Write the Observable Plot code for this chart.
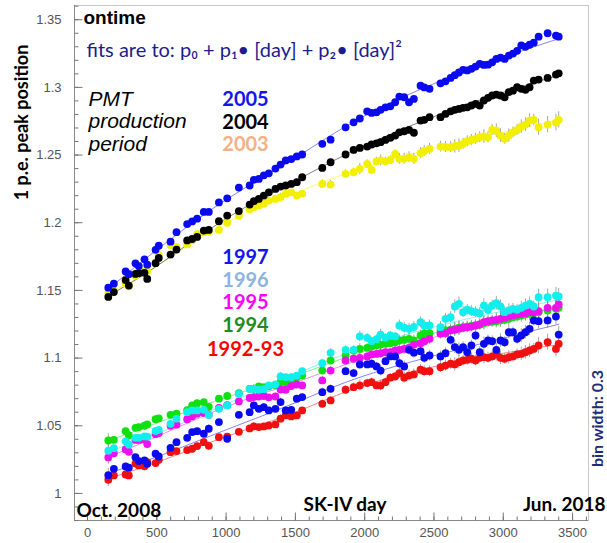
<!DOCTYPE html>
<html><head><meta charset="utf-8">
<script src="https://cdn.jsdelivr.net/npm/d3@7"></script>
<script src="https://cdn.jsdelivr.net/npm/@observablehq/plot@0.6"></script>
<style>body{margin:0;background:#fff}#chart{width:607px;height:543px;overflow:hidden}</style>
</head><body><div id="chart"></div>
<script>
// SK-IV day of each bin (shared by all series)
const days = [150,190,275,298,346,370,411,431,491,514,599,642,719,755,791,839,875,948,1008,1092,
 1170,1200,1236,1272,1308,1356,1393,1430,1470,1510,1549,1694,1754,
 1862,1920,1965,2018,2050,2085,2115,2150,2185,2220,2250,2285,2320,2355,2403,2430,2468,
 2547,2583,2620,2650,2680,2710,2740,2770,2800,2830,2860,2890,2920,2950,2980,3010,3040,3070,3100,3130,3160,3190,3220,3255,3320,3380,3400];

const s2005 = [1.152,1.155,1.164,1.162,1.170,1.168,1.173,1.169,1.180,1.183,1.186,1.193,1.199,1.201,1.203,1.208,1.208,1.215,1.218,1.226,
 1.2275,1.2317,1.2324,1.2350,1.2365,1.2400,1.2430,1.2460,1.2470,1.2490,1.2504,1.2583,1.2614,
 1.2705,1.2742,1.2770,1.2823,1.2811,1.2816,1.2834,1.2853,1.2860,1.2890,1.2932,1.2927,1.2890,1.2915,1.3013,1.3000,1.2989,
 1.3030,1.3045,1.3070,1.3090,1.3110,1.3130,1.3125,1.3137,1.3154,1.3174,1.3166,1.3168,1.3185,1.3210,1.3220,1.3210,1.3235,1.3250,1.3270,1.3310,1.3300,1.3315,1.3330,1.3375,1.3400,1.3383,1.3375];
const s2004 = [1.1452,1.1488,1.1576,1.1536,1.1622,1.1627,1.1630,1.1585,1.1701,1.1740,1.1765,1.1802,1.1869,1.1880,1.1895,1.1942,1.1947,1.2011,1.2053,1.2086,
 1.2134,1.2159,1.2176,1.2201,1.2225,1.2250,1.2267,1.2275,1.2287,1.2300,1.2336,1.2405,1.2447,
 1.2504,1.2538,1.2553,1.2563,1.2578,1.2587,1.2595,1.2612,1.2627,1.2644,1.2668,1.2676,1.2686,1.2665,1.2755,1.2760,1.2780,
 1.2780,1.2804,1.2823,1.2834,1.2841,1.2849,1.2853,1.2866,1.2878,1.2866,1.2903,1.2923,1.2940,1.2947,1.2940,1.2927,1.2965,1.2976,1.3001,1.2989,1.2982,1.3001,1.3050,1.3058,1.3070,1.3095,1.3104];
const s2003 = [1.1480,1.1500,1.1553,1.1530,1.1610,1.1640,1.1640,1.1645,1.1705,1.1760,1.1835,1.1820,1.1840,1.1870,1.1915,1.1930,1.1935,1.1947,1.2000,1.2050,
 1.2100,1.2115,1.2127,1.2140,1.2164,1.2176,1.2189,1.2213,1.2225,1.2201,1.2215,1.2287,1.2282,
 1.2361,1.2373,1.2398,1.2434,1.2390,1.2454,1.2460,1.2454,1.2464,1.2508,1.2472,1.2472,1.2484,1.2472,1.2515,1.2530,1.2546,
 1.2563,1.2560,1.2558,1.2565,1.2570,1.2583,1.2602,1.2612,1.2620,1.2632,1.2637,1.2632,1.2686,1.2680,1.2644,1.2620,1.2644,1.2668,1.2686,1.2710,1.2725,1.2755,1.2760,1.2706,1.2725,1.2740,1.2760];
const s1997 = [1.0135,1.0182,1.0199,1.0190,1.0268,1.0239,1.0244,1.0219,1.0293,1.0273,1.0337,1.0379,1.0411,1.0453,1.0460,1.0441,1.0478,1.0527,1.0404,1.0581,
 1.0600,1.0650,1.0625,1.0637,1.0613,1.0625,1.0675,1.0613,1.0618,1.0700,1.0712,1.0748,1.0773,
 1.0903,1.0889,1.0953,1.0953,1.0958,1.0938,1.0908,1.0977,1.1012,1.1012,1.0962,1.0938,1.1061,1.1040,1.1051,1.1002,1.1019,
 1.1012,1.1036,1.1135,1.1081,1.1061,1.1081,1.1043,1.1093,1.1167,1.1043,1.1105,1.1130,1.1125,1.1061,1.1130,1.1117,1.1191,1.1191,1.1142,1.1167,1.1191,1.1216,1.1278,1.1273,1.1278,1.1307,1.1174];
const s1996 = [1.0316,1.0334,1.0385,1.0360,1.0411,1.0411,1.0421,1.0420,1.0462,1.0470,1.0514,1.0552,1.0600,1.0613,1.0613,1.0618,1.0580,1.0625,1.0650,1.0735,
 1.0773,1.0773,1.0766,1.0770,1.0798,1.0805,1.0864,1.0860,1.0859,1.0871,1.0903,1.0962,1.1039,
 1.1061,1.1061,1.1160,1.1150,1.1125,1.1140,1.1174,1.1150,1.1167,1.1160,1.1241,1.1224,1.1216,1.1230,1.1265,1.1241,1.1241,
 1.1228,1.1290,1.1302,1.1381,1.1401,1.1339,1.1357,1.1347,1.1339,1.1332,1.1388,1.1357,1.1388,1.1405,1.1381,1.1339,1.1352,1.1364,1.1357,1.1371,1.1388,1.1401,1.1381,1.1450,1.1450,1.1462,1.1455];
const s1995 = [1.0266,1.0296,1.0325,1.0308,1.0395,1.0395,1.0398,1.0365,1.0438,1.0446,1.0500,1.0508,1.0548,1.0570,1.0589,1.0595,1.0582,1.0632,1.0652,1.0680,
 1.0705,1.0712,1.0716,1.0720,1.0710,1.0716,1.0768,1.0766,1.0793,1.0805,1.0798,1.0835,1.0908,
 1.0982,1.0995,1.1002,1.1012,1.1027,1.1031,1.1036,1.1043,1.1043,1.1056,1.1061,1.1068,1.1076,1.1100,1.1110,1.1125,1.1142,
 1.1180,1.1184,1.1204,1.1209,1.1216,1.1224,1.1228,1.1233,1.1241,1.1248,1.1265,1.1273,1.1278,1.1283,1.1290,1.1298,1.1307,1.1315,1.1322,1.1327,1.1332,1.1339,1.1339,1.1347,1.1371,1.1371,1.1396];
const s1994 = [1.0391,1.0396,1.0460,1.0430,1.0485,1.0490,1.0500,1.0510,1.0548,1.0555,1.0581,1.0590,1.0615,1.0650,1.0667,1.0675,1.0640,1.0700,1.0720,1.0741,
 1.0773,1.0773,1.0790,1.0785,1.0790,1.0800,1.0822,1.0822,1.0840,1.0859,1.0871,1.0908,1.0982,
 1.1019,1.1056,1.1068,1.1076,1.1086,1.1093,1.1100,1.1106,1.1110,1.1117,1.1130,1.1135,1.1142,1.1130,1.1167,1.1180,1.1184,
 1.1204,1.1206,1.1209,1.1216,1.1224,1.1228,1.1233,1.1238,1.1241,1.1248,1.1258,1.1265,1.1268,1.1273,1.1278,1.1283,1.1290,1.1302,1.1307,1.1315,1.1322,1.1327,1.1332,1.1339,1.1352,1.1364,1.1371];
const s1992 = [1.0101,1.0133,1.0140,1.0133,1.0222,1.0207,1.0200,1.0231,1.0224,1.0249,1.0305,1.0313,1.0320,1.0330,1.0350,1.0379,1.0352,1.0416,1.0420,1.0455,
 1.0480,1.0495,1.0490,1.0495,1.0502,1.0510,1.0552,1.0576,1.0569,1.0576,1.0613,1.0662,1.0687,
 1.0766,1.0785,1.0798,1.0815,1.0822,1.0798,1.0798,1.0822,1.0855,1.0864,1.0889,1.0855,1.0871,1.0879,1.0914,1.0903,1.0903,
 1.0933,1.0945,1.0958,1.0953,1.0970,1.0982,1.0987,1.0995,1.0982,1.1002,1.1007,1.1002,1.1012,1.1027,1.1002,1.0995,1.1007,1.1012,1.1027,1.1031,1.1043,1.1056,1.1068,1.1093,1.1117,1.1068,1.1105];

// error bar half-lengths per bin
const errs = [0.005,0.002,0.002,0.002,0.002,0.002,0.002,0.002,0.002,0.002,0.002,0.002,0.002,0.002,0.002,0.002,0.003,0.002,0.002,0.002,
 0.002,0.003,0.002,0.002,0.002,0.002,0.003,0.002,0.002,0.002,0.002,0.003,0.003,
 0.003,0.003,0.004,0.003,0.003,0.003,0.004,0.003,0.003,0.003,0.004,0.004,0.004,0.004,0.004,0.004,0.004,
 0.004,0.004,0.004,0.005,0.005,0.004,0.004,0.004,0.004,0.004,0.005,0.004,0.004,0.005,0.005,0.004,0.005,0.004,0.004,0.005,0.005,0.005,0.004,0.006,0.006,0.006,0.006];

// fit curves
const fitDays = [150, 500, 1000, 1500, 2000, 2700, 3400];
const fit2005 = [1.151, 1.180, 1.217, 1.248, 1.279, 1.311, 1.336];
const fit2004 = [1.146, 1.168, 1.203, 1.231, 1.257, 1.286, 1.309];
const fit2003 = [1.148, 1.168, 1.200, 1.222, 1.241, 1.260, 1.276];
const fit1997 = [1.015, 1.027, 1.047, 1.067, 1.087, 1.107, 1.125];
const fit1996 = [1.031, 1.044, 1.066, 1.088, 1.108, 1.128, 1.143];
const fit1995 = [1.027, 1.042, 1.064, 1.082, 1.100, 1.121, 1.138];
const fit1994 = [1.039, 1.052, 1.071, 1.087, 1.105, 1.123, 1.137];
const fit1992 = [1.011, 1.023, 1.042, 1.060, 1.080, 1.098, 1.110];

const xTicks = [0, 500, 1000, 1500, 2000, 2500, 3000, 3500];
const yTicks = [1, 1.05, 1.1, 1.15, 1.2, 1.25, 1.3, 1.35];

const series = [
  {values: s2003, fit: fit2003, color: "#f2f000", err: true},
  {values: s2004, fit: fit2004, color: "#000000", err: false},
  {values: s2005, fit: fit2005, color: "#0a0af0", err: false},
  {values: s1994, fit: fit1994, color: "#10e010", err: true},
  {values: s1995, fit: fit1995, color: "#ee10ee", err: true},
  {values: s1996, fit: fit1996, color: "#10eeee", err: true},
  {values: s1992, fit: fit1992, color: "#f01010", err: true},
  {values: s1997, fit: fit1997, color: "#0a0af0", err: true}
];

const M = {top: 5, right: 19, bottom: 23, left: 74};
const xDomain = [-94, 3615];
const yDomain = [0.98, 1.3605];
const FONT = "Lato, 'Open Sans', sans-serif";
const TICKFONT = "'Liberation Sans', Arial, sans-serif";

function label(txt, x, y, o = {}) {
  return Plot.text([txt], {text: d => d, frameAnchor: "top-left", dx: x - M.left, dy: y - M.top,
    lineAnchor: "bottom", textAnchor: "start", fontFamily: FONT, fontSize: 20, fill: "#000", ...o});
}
// inward tick symbols (ROOT style)
const tickRight = len => ({draw(ctx) { ctx.moveTo(0, 0); ctx.lineTo(len, 0); }});
const tickUp = len => ({draw(ctx) { ctx.moveTo(0, 0); ctx.lineTo(0, -len); }});

const marks = [Plot.frame({stroke: "#c8c8c8"})];
for (const s of series) {
  marks.push(Plot.line(fitDays.map((d, i) => ({day: d, v: s.fit[i]})),
    {x: "day", y: "v", stroke: s.color, strokeOpacity: 0.5, strokeWidth: 1, curve: "natural"}));
}
for (const s of series) if (s.err) {
  marks.push(Plot.ruleX(days.map((d, i) => ({day: d, v: s.values[i], e: errs[i]})),
    {x: "day", y1: d => d.v - d.e, y2: d => d.v + d.e, stroke: "#8a8a8a", strokeOpacity: 0.75, strokeWidth: 1}));
}
for (const s of series) {
  marks.push(Plot.dot(days.map((d, i) => ({day: d, v: s.values[i]})),
    {x: "day", y: "v", r: 3.9, fill: s.color, stroke: "none"}));
}
const yMinor = d3.range(98, 137).map(d => d / 100);
const xMinor = d3.range(0, 37).map(d => d * 100);
// axes
marks.push(
  Plot.ruleX([xDomain[0]], {stroke: "#8a8a8a"}),
  Plot.ruleY([yDomain[0]], {stroke: "#8a8a8a"}),
  Plot.dot(yTicks, {x: () => xDomain[0], y: d => d, symbol: tickRight(8), fill: "none", stroke: "#777", strokeWidth: 1}),
  Plot.dot(yMinor, {x: () => xDomain[0], y: d => d, symbol: tickRight(4), fill: "none", stroke: "#777", strokeWidth: 1}),
  Plot.dot(xTicks, {x: d => d, y: () => yDomain[0], symbol: tickUp(8), fill: "none", stroke: "#777", strokeWidth: 1}),
  Plot.dot(xMinor, {x: d => d, y: () => yDomain[0], symbol: tickUp(4), fill: "none", stroke: "#777", strokeWidth: 1}),
  Plot.axisY({ticks: yTicks, tickSize: 0, tickPadding: 13, tickFormat: d => String(d), fontSize: 13, fill: "#555", fontFamily: TICKFONT, label: null}),
  Plot.axisX({ticks: xTicks, tickSize: 0, tickPadding: 7, tickFormat: d => String(d), fontSize: 13, fill: "#555", fontFamily: TICKFONT, label: null})
);
// annotations
const ITALIC = {fontSize: 21, fontStyle: "italic", fontFamily: TICKFONT};
marks.push(
  label("1 p.e. peak position", 27, 122, {rotate: -90, textAnchor: "middle", fontSize: 18, fontWeight: "bold"}),
  label("ontime", 83, 23, {fontFamily: TICKFONT, fontSize: 19, fontWeight: "bold"}),
  label("fits are to: p\u2080 + p\u2081\u2022 [day] + p\u2082\u2022 [day]\u00B2", 86, 56, {fontSize: 20, fill: "#1c1c8c"}),
  label("PMT", 88, 105, ITALIC),
  label("production", 88, 127.5, ITALIC),
  label("period", 88, 150, ITALIC),
  label("2005", 245, 105, {textAnchor: "middle", fontWeight: "bold", fill: "#1414ee"}),
  label("2004", 245, 128, {textAnchor: "middle", fontWeight: "bold", fill: "#000"}),
  label("2003", 245, 150, {textAnchor: "middle", fontWeight: "bold", fill: "#f4b183"}),
  label("1997", 245, 263, {textAnchor: "middle", fontWeight: "bold", fill: "#1414ee"}),
  label("1996", 245, 286, {textAnchor: "middle", fontWeight: "bold", fill: "#8db3e2"}),
  label("1995", 245, 308, {textAnchor: "middle", fontWeight: "bold", fill: "#ff00ff"}),
  label("1994", 245, 331, {textAnchor: "middle", fontWeight: "bold", fill: "#1e8c1e"}),
  label("1992-93", 245, 355, {textAnchor: "middle", fontWeight: "bold", fill: "#ff0000"}),
  label("Oct. 2008", 76, 516, {fontSize: 19, fontWeight: "bold"}),
  label("SK-IV day", 303, 510, {fontSize: 19, fontWeight: "bold"}),
  label("Jun. 2018", 605, 510, {fontSize: 19, fontWeight: "bold", textAnchor: "end"}),
  label("bin width: 0.3", 602, 418, {rotate: -90, textAnchor: "middle", fontSize: 16, fontWeight: "bold", fill: "#1f2a7a"})
);

const chart = Plot.plot({
  width: 607, height: 543,
  marginTop: M.top, marginRight: M.right, marginBottom: M.bottom, marginLeft: M.left,
  x: {domain: xDomain, nice: false},
  y: {domain: yDomain, nice: false},
  style: {background: "#fff", fontFamily: FONT},
  marks
});
document.getElementById("chart").appendChild(chart);
</script>
</body></html>
